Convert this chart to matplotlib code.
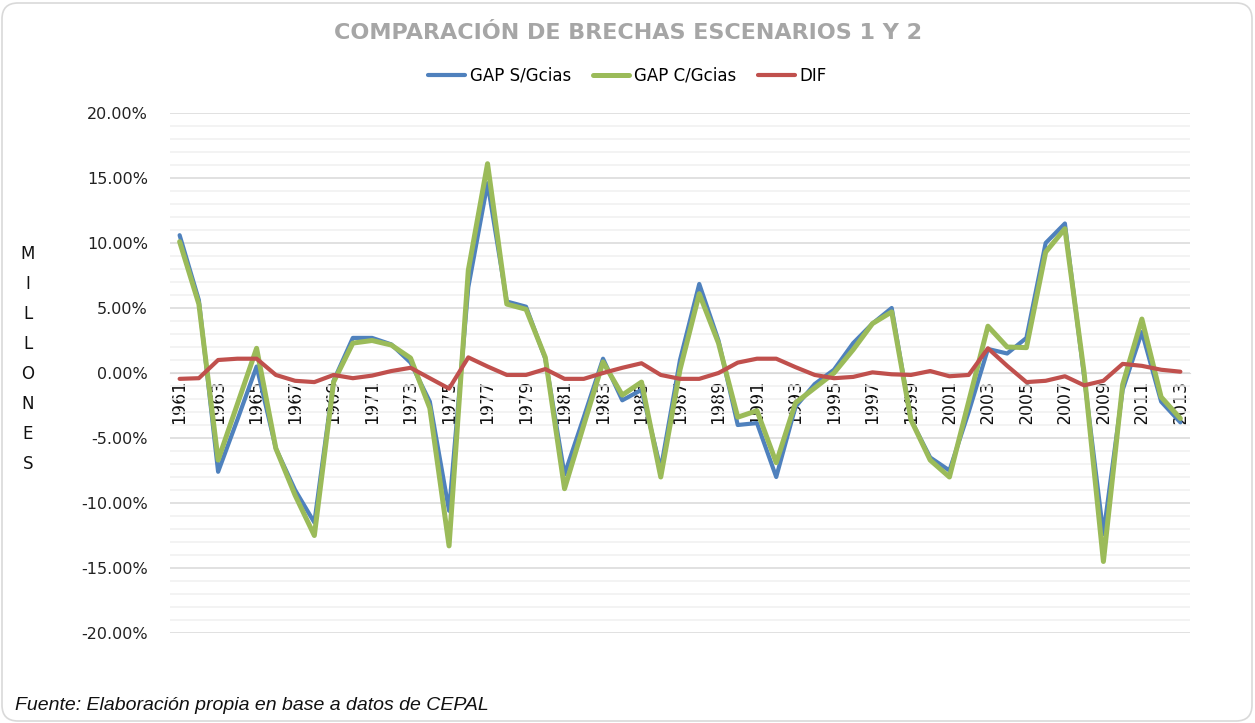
"""
Comparacion de brechas escenarios 1 y 2 (line chart, Excel style).
"""
import matplotlib
matplotlib.use("Agg")
import matplotlib.pyplot as plt
import matplotlib.patches as mpatches
from matplotlib.ticker import FuncFormatter, MultipleLocator
from matplotlib.transforms import IdentityTransform

plt.rcParams["font.family"] = ["DejaVu Sans"]
plt.rcParams["axes.unicode_minus"] = False

years = list(range(1961, 2014))

# values in percent
gap_s = [10.6, 5.6, -7.6, -3.6, 0.5, -5.8, -9.0, -11.5, -0.6, 2.7,
         2.7, 2.2, 0.8, -2.2, -10.6, 6.6, 14.6, 5.5, 5.1, 1.1,
         -7.8, -3.4, 1.1, -2.1, -1.3, -7.4, 1.0, 6.85, 2.5, -4.0,
         -3.85, -8.0, -2.6, -0.85, 0.25, 2.3, 3.8, 5.0, -3.6, -6.5,
         -7.5, -3.0, 1.85, 1.5, 2.7, 10.0, 11.5, -0.3, -12.4, -1.3,
         3.15, -2.2, -3.8]
gap_c = [10.1, 5.3, -6.7, -2.4, 1.9, -5.8, -9.4, -12.5, -0.7, 2.3,
         2.5, 2.15, 1.15, -2.7, -13.3, 7.9, 16.1, 5.3, 4.9, 1.2,
         -8.9, -4.0, 0.85, -1.7, -0.7, -8.0, 0.25, 6.1, 2.3, -3.4,
         -2.9, -6.9, -2.3, -1.15, 0.0, 1.8, 3.8, 4.7, -3.6, -6.7,
         -8.0, -2.2, 3.6, 2.0, 1.95, 9.3, 11.1, 0.0, -14.5, -0.9,
         4.15, -1.85, -3.5]
dif = [-0.45, -0.4, 1.0, 1.1, 1.1, -0.15, -0.6, -0.7, -0.15, -0.4,
       -0.2, 0.15, 0.4, -0.4, -1.2, 1.2, 0.5, -0.15, -0.15, 0.3,
       -0.45, -0.45, 0.0, 0.4, 0.75, -0.15, -0.45, -0.45, 0.0, 0.8,
       1.1, 1.1, 0.45, -0.15, -0.4, -0.3, 0.05, -0.1, -0.15, 0.15,
       -0.25, -0.15, 1.9, 0.55, -0.7, -0.6, -0.25, -0.95, -0.6, 0.7,
       0.55, 0.25, 0.1]

C_BLUE = "#4f81bd"
C_GREEN = "#9bbb59"
C_RED = "#c0504d"

W, H = 1255, 723
fig = plt.figure(figsize=(W / 100, H / 100), dpi=100)
fig.patch.set_facecolor("white")

# outer rounded chart border
border = mpatches.FancyBboxPatch((2, 2), W - 5, H - 5,
                                 boxstyle="round,pad=0,rounding_size=16",
                                 facecolor="none", edgecolor="#d9d9d9",
                                 linewidth=1.2, transform=IdentityTransform())
fig.add_artist(border)

ax = fig.add_axes([170 / W, 1 - 633 / H, 1020 / W, 520 / H])
ax.set_xlim(1960.5, 2013.5)
ax.set_ylim(-20, 20)

kw = dict(solid_joinstyle="round", solid_capstyle="round")
ax.plot(years, gap_s, color=C_BLUE, linewidth=3.0, label="GAP S/Gcias", zorder=3, **kw)
ax.plot(years, gap_c, color=C_GREEN, linewidth=3.6, label="GAP C/Gcias", zorder=4, **kw)
ax.plot(years, dif, color=C_RED, linewidth=3.0, label="DIF", zorder=5, **kw)

# grid
ax.yaxis.set_major_locator(MultipleLocator(5))
ax.yaxis.set_minor_locator(MultipleLocator(1))
ax.grid(True, axis="y", which="major", color="#d9d9d9", linewidth=1.1, zorder=0)
ax.grid(True, axis="y", which="minor", color="#f0f0f0", linewidth=1.1, zorder=0)
ax.set_axisbelow(True)

for s in ["top", "right", "left"]:
    ax.spines[s].set_visible(False)
ax.spines["bottom"].set_position(("data", 0))
ax.spines["bottom"].set_color("#d9d9d9")

ax.yaxis.set_major_formatter(FuncFormatter(lambda v, p: f"{v:.2f}%"))
ax.tick_params(axis="y", which="both", length=0, pad=16, labelsize=11.5, labelcolor="#222222")

ax.set_xticks(years[::2])
ax.set_xticklabels([str(y) for y in years[::2]], rotation=90)
ax.tick_params(axis="x", length=0, pad=5, labelsize=12.5, labelcolor="#111111")

# title
fig.text(0.5, 1 - 33 / H, "COMPARACIÓN DE BRECHAS ESCENARIOS 1 Y 2",
         ha="center", va="center", fontsize=16, fontweight="bold", color="#a6a6a6")

# legend
fig.legend(loc="center", bbox_to_anchor=(0.5, 1 - 76 / H), ncol=3, frameon=False,
           fontsize=12, handlelength=2.2, handletextpad=0.3, columnspacing=1.3)

# vertical stacked axis title
fig.text(28 / W, 1 - 359 / H, "\n".join("MILLONES"), ha="center", va="center",
         fontsize=12, linespacing=1.85, color="#111111")

# source note
fig.text(15 / W, 1 - 705 / H, "Fuente: Elaboración propia en base a datos de CEPAL",
         ha="left", va="center", fontsize=14, style="italic",
         family="Liberation Sans", color="#111111")

fig.savefig("out.png", dpi=100, facecolor="white")
